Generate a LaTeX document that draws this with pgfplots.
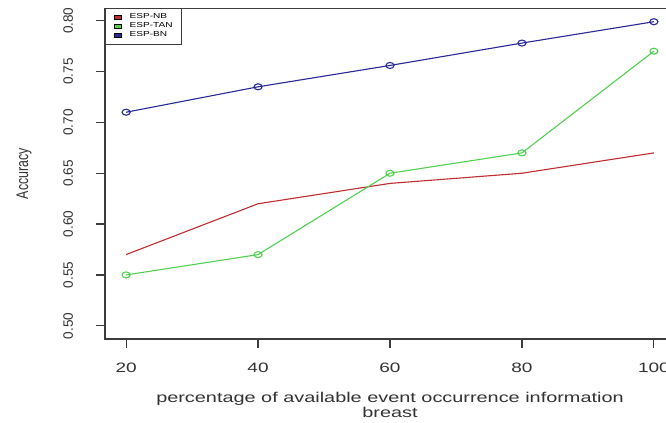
\documentclass[border=0pt]{standalone}
\usepackage{pgfplots}
\pgfplotsset{compat=1.18}
\usepackage{fontspec}
\setmainfont{Liberation Sans}
\newfontfamily\wide[FakeStretch=1.4]{Liberation Sans}
\definecolor{nbred}{RGB}{190,45,50}
\definecolor{tangreen}{RGB}{80,210,80}
\definecolor{bnblue}{RGB}{40,40,150}
\definecolor{axgray}{RGB}{60,60,60}
\begin{document}
\begin{tikzpicture}
\fill[white] (0,0) rectangle (333pt,211.5pt);
\clip (0,0) rectangle (333pt,211.5pt);
\begin{axis}[
  at={(52.5pt,42pt)}, anchor=south west,
  scale only axis, width=285pt, height=165.35pt,
  xmin=16.8, xmax=103.2, ymin=0.487, ymax=0.8122,
  xtick={20,40,60,80,100},
  ytick={0.50,0.55,0.60,0.65,0.70,0.75,0.80},
  tick align=outside, tick pos=left,
  major tick length=4.5pt,
  every tick/.style={axgray, line width=0.6pt},
  axis line style={line width=0.7pt, axgray},
  /pgf/number format/assume math mode=true,
  yticklabel style={/pgf/number format/fixed, /pgf/number format/fixed zerofill, /pgf/number format/precision=2, rotate=90, anchor=south, font=\fontsize{6.8}{8}\selectfont, color=black!80},
  yticklabel shift=8pt,
  xticklabel style={font=\wide\fontsize{6.8}{8}\selectfont, color=black!80},
  xticklabel shift=4pt,
  xlabel={percentage of available event occurrence information\\breast},
  xlabel style={align=center, font=\wide\fontsize{7.1}{6.6}\selectfont, color=black!80, yshift=-3pt},
  ylabel={\scalebox{1}[1.35]{Accuracy}},
  ylabel style={font=\fontsize{6.2}{7}\selectfont, color=black!80, yshift=9pt},
  legend style={at={(0,1)}, anchor=north west, font=\wide\fontsize{3.6}{4}\selectfont, draw=axgray, line width=0.5pt, inner xsep=4.2pt, inner ysep=2.2pt, row sep=0pt, column sep=3.6pt, nodes={inner sep=0.2pt}, cells={anchor=west}},
  legend image code/.code={\draw[#1, draw=black, line width=0.3pt] (0pt,-1pt) rectangle (3.75pt,1pt);},
]
\addlegendimage{fill=nbred}
\addlegendentry{ESP-NB}
\addlegendimage{fill=tangreen}
\addlegendentry{ESP-TAN}
\addlegendimage{fill=bnblue}
\addlegendentry{ESP-BN}
\addplot[nbred, line width=0.55pt, forget plot] coordinates {(20,0.57) (40,0.62) (60,0.64) (80,0.65) (100,0.67)};
\addplot[tangreen, line width=0.55pt, mark=o, mark size=1.5pt, mark options={xscale=1.35}, forget plot] coordinates {(20,0.55) (40,0.57) (60,0.65) (80,0.67) (100,0.77)};
\addplot[bnblue, line width=0.55pt, mark=o, mark size=1.5pt, mark options={xscale=1.35}, forget plot] coordinates {(20,0.71) (40,0.735) (60,0.756) (80,0.778) (100,0.799)};
\end{axis}
\end{tikzpicture}
\end{document}
